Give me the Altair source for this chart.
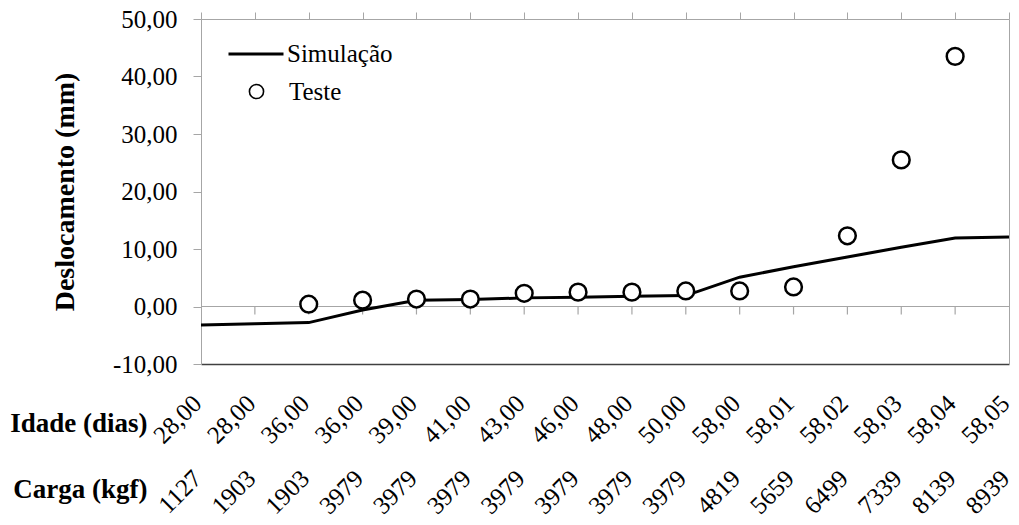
import json
import altair as alt
import pandas as pd

# ---- data ----
idade = ["28,00", "28,00", "36,00", "36,00", "39,00", "41,00", "43,00", "46,00",
         "48,00", "50,00", "58,00", "58,01", "58,02", "58,03", "58,04", "58,05"]
carga = ["1127", "1903", "1903", "3979", "3979", "3979", "3979", "3979",
         "3979", "3979", "4819", "5659", "6499", "7339", "8139", "8939"]
simulacao = [-3.2, -3.0, -2.8, -0.6, 1.1, 1.2, 1.5, 1.6,
             1.8, 1.9, 5.1, 6.9, 8.6, 10.3, 11.9, 12.1]
teste_pos = [2, 3, 4, 5, 6, 7, 8, 9, 10, 11, 12, 13, 14]
teste = [0.4, 1.1, 1.3, 1.3, 2.3, 2.5, 2.5, 2.7, 2.7, 3.4, 12.3, 25.5, 43.5]
y_ticks = [-10, 0, 10, 20, 30, 40, 50]

positions = list(range(len(idade)))
sim_df = pd.DataFrame({"i": positions, "v": simulacao, "modelo": "Simulação"})
test_df = pd.DataFrame({"i": teste_pos, "v": teste, "ensaio": "Teste"})
zero_df = pd.DataFrame({"a": [positions[0]], "b": [positions[-1]], "y": [0]})
tick_df = pd.DataFrame({"i": positions[1:-1], "z": [0] * (len(positions) - 2)})

FONT = "Liberation Serif"
GRAY = "#a6a6a6"
xscale = alt.Scale(domain=[positions[0], positions[-1]], nice=False, zero=False)
yscale = alt.Scale(domain=[-10, 50], nice=False)

idade_expr = json.dumps(idade) + "[datum.value]"
carga_expr = json.dumps(carga) + "[datum.value]"
y_expr = "replace(replace(format(datum.value, '.2f'), '.', ','), '\u2212', '-')"

# zero line + top border axis
zero = alt.Chart(zero_df).mark_rule(color=GRAY, strokeWidth=1.2).encode(
    x=alt.X("a:Q", scale=xscale, axis=alt.Axis(
        orient="top", values=positions, labels=False, ticks=True, tickSize=7,
        tickColor=GRAY, domain=True, domainColor=GRAY, grid=False, title=None)),
    x2="b:Q",
    y=alt.Y("y:Q", scale=yscale, axis=None),
)

zero_ticks = alt.Chart(tick_df).mark_tick(
    orient="vertical", size=8, thickness=1.2, color=GRAY, yOffset=4, opacity=1
).encode(
    x=alt.X("i:Q", scale=xscale, axis=None),
    y=alt.Y("z:Q", scale=yscale, axis=None),
)

line = alt.Chart(sim_df).mark_line(strokeWidth=3).encode(
    x=alt.X("i:Q", scale=xscale, axis=alt.Axis(
        orient="bottom", values=positions, labelExpr=idade_expr, labelAngle=315,
        labelAlign="right", labelBaseline="middle", labelPadding=35, labelOffset=-4,
        labelFont=FONT, labelFontSize=25, labelColor="black",
        labelOverlap=False, labelFlush=False,
        ticks=False, domain=True, domainColor="#404040", domainWidth=1.5, grid=False,
        title="Idade (dias)", titleFont=FONT, titleFontSize=27, titleFontWeight="bold",
        titleColor="black", titleAngle=0, titleAlign="right", titleBaseline="alphabetic",
        titleX=-54, titleY=67)),
    y=alt.Y("v:Q", scale=yscale, axis=alt.Axis(
        orient="left", values=y_ticks, labelExpr=y_expr,
        labelFont=FONT, labelFontSize=25, labelColor="black", labelPadding=16,
        labelOverlap=False, labelFlush=False,
        tickSize=8, tickColor=GRAY, domainColor=GRAY, grid=False,
        title="Deslocamento (mm)", titleFont=FONT, titleFontSize=28,
        titleFontWeight="bold", titleColor="black", titleAngle=270,
        titleAlign="center", titleBaseline="middle", titleX=-136, titleY=172.5)),
    color=alt.Color("modelo:N", scale=alt.Scale(domain=["Simulação"], range=["black"]),
                    legend=alt.Legend(
                        orient="none", legendX=26, legendY=6, title=None,
                        symbolType="stroke", symbolSize=3025, symbolStrokeWidth=3,
                        symbolStrokeColor="black",
                        labelFont=FONT, labelFontSize=25, labelColor="black",
                        labelOffset=2, padding=0)),
)

pts = alt.Chart(test_df).mark_point(
    shape="circle", filled=False, fill="white", strokeWidth=2.5, size=280,
    opacity=1, fillOpacity=1, strokeOpacity=1
).encode(
    x=alt.X("i:Q", scale=xscale, axis=alt.Axis(
        orient="bottom", values=positions, labelExpr=carga_expr, labelAngle=315,
        labelAlign="right", labelBaseline="middle", labelPadding=110, labelOffset=-4,
        labelFont=FONT, labelFontSize=25, labelColor="black",
        labelOverlap=False, labelFlush=False,
        ticks=False, domain=False, grid=False,
        title="Carga (kgf)", titleFont=FONT, titleFontSize=27, titleFontWeight="bold",
        titleColor="black", titleAngle=0, titleAlign="right", titleBaseline="alphabetic",
        titleX=-54, titleY=133)),
    y=alt.Y("v:Q", scale=yscale, axis=alt.Axis(
        orient="right", values=y_ticks, labels=False, ticks=False, domain=True,
        domainColor=GRAY, grid=False, title=None)),
    stroke=alt.Stroke("ensaio:N", scale=alt.Scale(domain=["Teste"], range=["black"]),
                      legend=alt.Legend(
                          orient="none", legendX=43, legendY=60, title=None,
                          symbolType="circle", symbolFillColor="white",
                          symbolStrokeWidth=1.6, symbolSize=200, symbolOpacity=1,
                          labelFont=FONT, labelFontSize=25, labelColor="black",
                          labelOffset=20, padding=0)),
)

chart = alt.layer(zero, zero_ticks, line, pts).resolve_axis(
    x="independent", y="independent"
).properties(
    width=808, height=345,
    autosize=alt.AutoSizeParams(type="none"),
    padding={"left": 193, "top": 11, "right": 2, "bottom": 161},
).configure_view(stroke=None)

chart.save("out.html", embed_options={"renderer": "svg", "actions": False})
